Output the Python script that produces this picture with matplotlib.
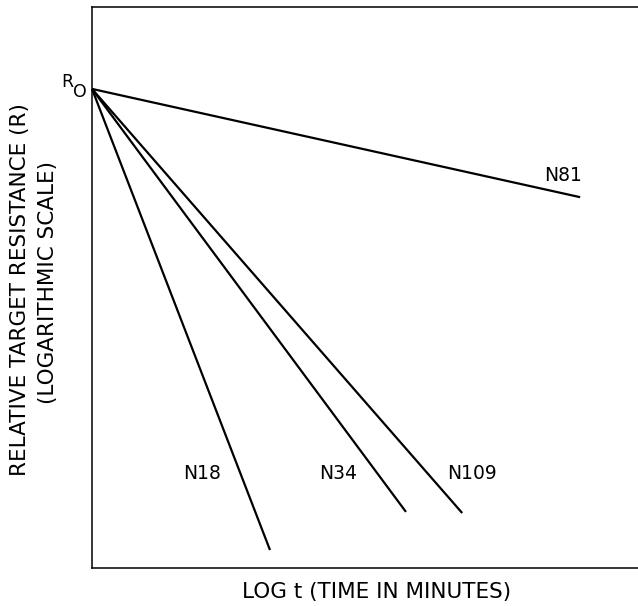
import matplotlib
matplotlib.use("Agg")
import matplotlib.pyplot as plt

# Data (arbitrary units: x = log t, y = log R)
series = ["N18", "N34", "N109", "N81"]
x_start = [0.0, 0.0, 0.0, 0.0]
y_start = [0.854, 0.854, 0.854, 0.854]
x_end = [0.326, 0.575, 0.678, 0.894]
y_end = [0.032, 0.100, 0.098, 0.661]
label_x = [0.201, 0.451, 0.696, 0.863]
label_y = [0.168, 0.168, 0.168, 0.700]

fig = plt.figure(figsize=(6.38, 6.06), dpi=100)
ax = fig.add_axes([92/638, 38/606, 546/638, 561/606])
ax.set_xlim(0, 1)
ax.set_ylim(0, 1)
ax.set_xticks([])
ax.set_yticks([])
ax.spines["right"].set_visible(False)
for s in ["left", "top", "bottom"]:
    ax.spines[s].set_linewidth(1.1)

for i, name in enumerate(series):
    ax.plot([x_start[i], x_end[i]], [y_start[i], y_end[i]], color="black",
            lw=1.6, solid_capstyle="butt", clip_on=False)
    ax.text(label_x[i], label_y[i], name, ha="center", va="center",
            fontsize=13.5, color="black")

ax.text(-0.046, 0.866, "R", ha="center", va="center", fontsize=12.5,
        clip_on=False)
ax.text(-0.022, 0.849, "O", ha="center", va="center", fontsize=12.5,
        clip_on=False)

fig.text(20/638, 1 - 290/606, "RELATIVE TARGET RESISTANCE (R)", rotation=90,
         ha="center", va="center", fontsize=15.5)
fig.text(48/638, 1 - 282/606, "(LOGARITHMIC SCALE)", rotation=90,
         ha="center", va="center", fontsize=15.5)
fig.text(377/638, 1 - 592/606, "LOG t (TIME IN MINUTES)", ha="center",
         va="center", fontsize=15.5)

fig.savefig("out.png", dpi=100)
